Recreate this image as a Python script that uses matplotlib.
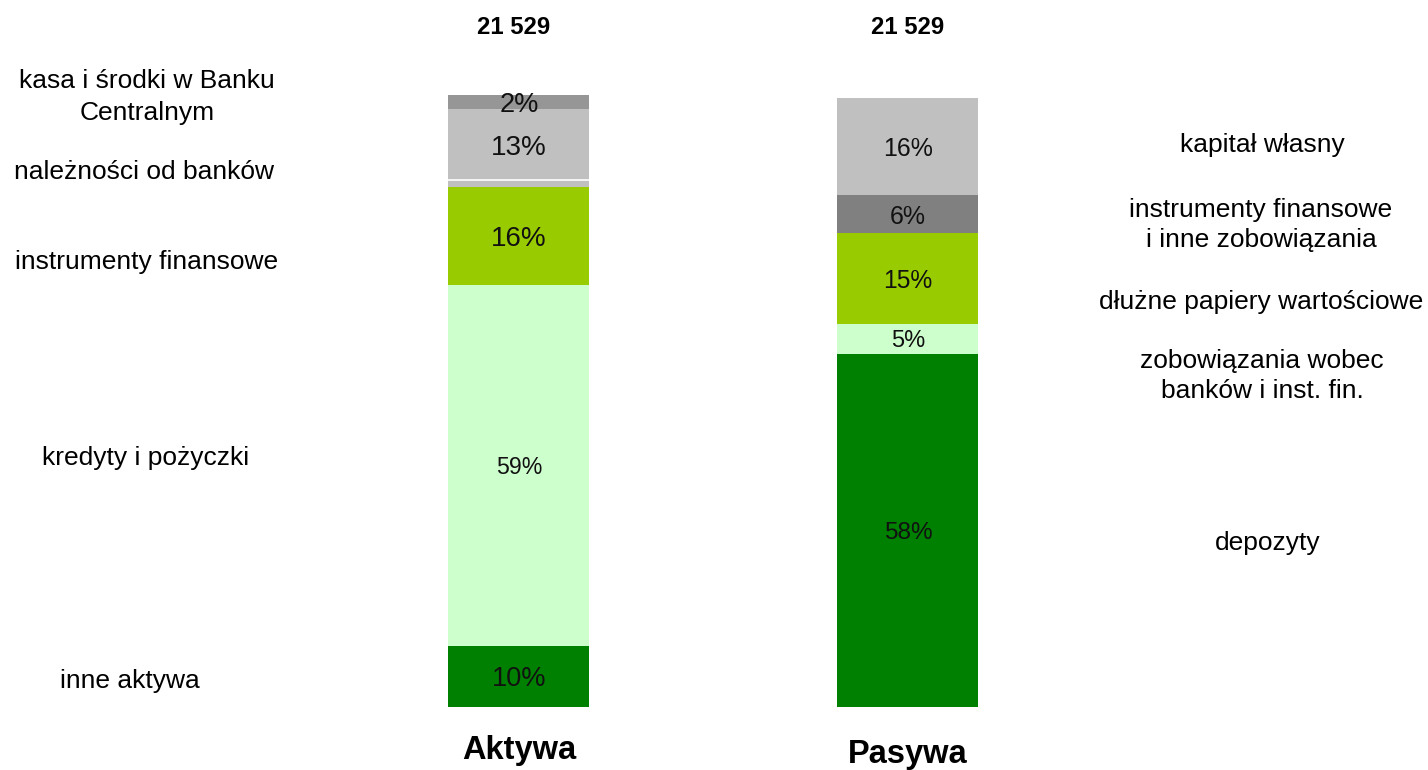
import matplotlib
matplotlib.use("Agg")
import matplotlib.pyplot as plt

plt.rcParams['font.family'] = ['Liberation Sans', 'DejaVu Sans']

# ---------------- data ----------------
bars = ["Aktywa", "Pasywa"]
totals = ["21 529", "21 529"]

aktywa_names = ["inne aktywa", "kredyty i pożyczki", "instrumenty finansowe",
                "należności od banków", "", "kasa i środki w Banku\nCentralnym"]
aktywa_values = [10.0, 59.2, 16.1, 1.1, 11.6, 2.3]
aktywa_labels = ["10%", "59%", "16%", "", "13%", "2%"]

pasywa_names = ["depozyty", "zobowiązania wobec\nbanków i inst. fin.",
                "dłużne papiery wartościowe",
                "instrumenty finansowe\ni inne zobowiązania", "kapitał własny"]
pasywa_values = [57.9, 4.9, 14.9, 6.2, 15.9]
pasywa_labels = ["58%", "5%", "15%", "6%", "16%"]

# ---------------- style ----------------
aktywa_colors = ["#008000", "#CCFFCC", "#99CC00", "#C0C0C0", "#C0C0C0", "#969696"]
pasywa_colors = ["#008000", "#CCFFCC", "#99CC00", "#808080", "#C0C0C0"]
aktywa_fs = [19.5, 16.7, 20, 14, 20, 19.5]
pasywa_fs = [17.6, 17, 17.7, 18, 17.9]

W, H = 1428, 770
fig = plt.figure(figsize=(W / 100, H / 100), dpi=100)
ax = fig.add_axes([0, 0, 1, 1])
ax.set_xlim(-1.334, 2.337)
ax.set_ylim(-10.33, 115.9)
ax.axis("off")

bw = 0.3625
xs = [0, 1]

def stack(x, values, colors, labels, sizes):
    bottom = 0.0
    for v, c, lab, fs in zip(values, colors, labels, sizes):
        ax.bar(x, v, bottom=bottom, width=bw, color=c, linewidth=0)
        if lab:
            ax.text(x, bottom + v / 2, lab, ha="center", va="center_baseline",
                    fontsize=fs, color="#111111")
        bottom += v
    return bottom

stack(xs[0], aktywa_values, aktywa_colors, aktywa_labels, aktywa_fs)
stack(xs[1], pasywa_values, pasywa_colors, pasywa_labels, pasywa_fs)

# white separator above the thin "należności od banków" segment
sep_y = sum(aktywa_values[:4])
ax.hlines(sep_y, xs[0] - bw / 2, xs[0] + bw / 2, color="white", linewidth=1.2)

def px(x, y):
    return x / W, 1 - y / H

# totals above bars
for x_px, t in zip([514, 908], totals):
    fig.text(*px(x_px, 27), t, ha="center", va="center", fontsize=17.2,
             fontweight="bold")

# bar titles
for x_px, y_px, t in zip([519, 908], [750, 754], bars):
    fig.text(*px(x_px, y_px), t, ha="center", va="center", fontsize=23.5,
             fontweight="bold")

LBL_FS = 19
# left labels (Aktywa)
left_pos = {
    "kasa i środki w Banku\nCentralnym": (147, 97),
    "należności od banków": (144, 172),
    "instrumenty finansowe": (147, 262),
    "kredyty i pożyczki": (146, 458),
    "inne aktywa": (130, 681),
}
for name in aktywa_names:
    if name in left_pos:
        fig.text(*px(*left_pos[name]), name, ha="center", va="center",
                 fontsize=LBL_FS, linespacing=1.38, multialignment="center")

# right labels (Pasywa)
right_pos = {
    "kapitał własny": (1262, 145),
    "instrumenty finansowe\ni inne zobowiązania": (1261, 225),
    "dłużne papiery wartościowe": (1261, 302),
    "zobowiązania wobec\nbanków i inst. fin.": (1262, 376),
    "depozyty": (1268, 543),
}
for name in pasywa_names:
    fig.text(*px(*right_pos[name]), name, ha="center", va="center",
             fontsize=LBL_FS, linespacing=1.3, multialignment="center")

fig.savefig("out.png", dpi=100, facecolor="white")
